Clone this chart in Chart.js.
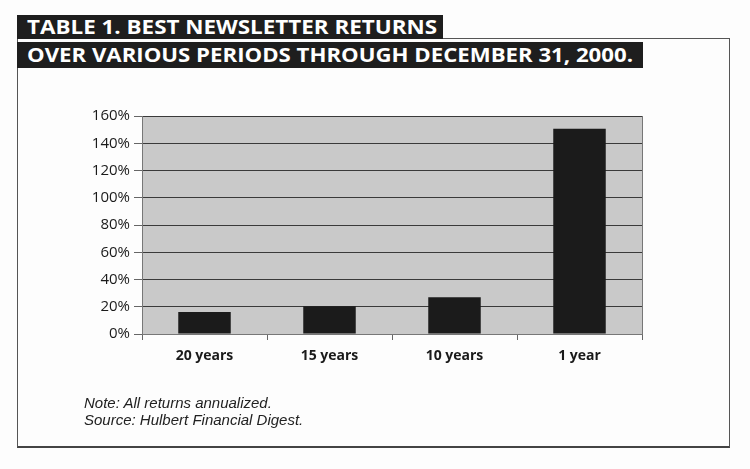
<!DOCTYPE html>
<html>
<head>
<meta charset="utf-8">
<script src="https://cdn.jsdelivr.net/npm/chart.js@4.4.1/dist/chart.umd.min.js"></script>
<style>
  html, body { margin: 0; padding: 0; background: #fff; }
  #wrap { position: relative; width: 750px; height: 469px; overflow: hidden; background: #fdfdfd; }
  #frame { position: absolute; left: 17px; top: 38px; width: 711px; height: 407px;
           border: 1px solid #555; border-bottom: 2px solid #444; }
  canvas { position: absolute; left: 0; top: 0; }
  .bar { position: absolute; background: #1e1e1e; color: #fff; font-family: "Open Sans", sans-serif;
         font-weight: 700; font-size: 19px; white-space: nowrap; overflow: hidden; }
  .bar span { position: absolute; left: 10px; top: 50%; transform-origin: 0 50%; line-height: 1; }
  #t1 { left: 17px; top: 15px; width: 426px; height: 24px; }
  #t2 { left: 17px; top: 42px; width: 626px; height: 26px; }
  .note { position: absolute; left: 84px; font-family: "Liberation Sans", Arial, sans-serif;
          font-style: italic; font-size: 15px; color: #222; white-space: nowrap; }
</style>
</head>
<body>
<div id="wrap">
  <div id="frame"></div>
  <canvas id="c" width="750" height="469"></canvas>
  <div class="bar" id="t1"><span data-w="410">TABLE 1. BEST NEWSLETTER RETURNS</span></div>
  <div class="bar" id="t2"><span data-w="606">OVER VARIOUS PERIODS THROUGH DECEMBER 31, 2000.</span></div>
  <div class="note" style="top:394px">Note: All returns annualized.</div>
  <div class="note" style="top:411px">Source: Hulbert Financial Digest.</div>
</div>
<script>
const categories = ["20 years", "15 years", "10 years", "1 year"];
const returnsPct = [16.2, 20.3, 26.9, 150.7];
const yTickValues = [0, 20, 40, 60, 80, 100, 120, 140, 160];
const yTickLabels = ["0%", "20%", "40%", "60%", "80%", "100%", "120%", "140%", "160%"];

document.querySelectorAll('.bar span').forEach(s => {
  const target = +s.dataset.w;
  const w = s.getBoundingClientRect().width;
  s.style.transform = 'translateY(-50%) scaleX(' + (target / w) + ')';
});

const plotBg = {
  id: 'plotBg',
  beforeDraw(chart) {
    const a = chart.chartArea, ctx = chart.ctx;
    ctx.save();
    ctx.fillStyle = '#c9c9c9';
    ctx.fillRect(a.left, a.top, a.right - a.left, a.bottom - a.top);
    ctx.restore();
  },
  afterDraw(chart) {
    const a = chart.chartArea, ctx = chart.ctx;
    ctx.save();
    ctx.strokeStyle = '#777';
    ctx.lineWidth = 1;
    ctx.beginPath();
    ctx.moveTo(a.right + 0.5, a.top);
    ctx.lineTo(a.right + 0.5, a.bottom);
    ctx.stroke();
    ctx.restore();
  }
};

new Chart(document.getElementById('c'), {
  type: 'bar',
  data: {
    labels: categories,
    datasets: [{
      data: returnsPct,
      backgroundColor: '#1b1b1b',
      borderWidth: 0,
      categoryPercentage: 1.0,
      barPercentage: 0.42
    }]
  },
  options: {
    responsive: false,
    animation: false,
    layout: { padding: { top: 116, right: 108, left: 0, bottom: 0 } },
    plugins: { legend: { display: false }, tooltip: { enabled: false } },
    scales: {
      y: {
        min: 0, max: 160,
        afterBuildTicks(s) { s.ticks = yTickValues.map(v => ({ value: v })); },
        afterFit(s) { s.width = 142; },
        ticks: {
          callback: (v) => yTickLabels[yTickValues.indexOf(v)],
          font: { family: "Open Sans", size: 15, weight: 500 },
          color: '#1a1a1a',
          padding: 4
        },
        grid: { color: '#3a3a3a', lineWidth: 1, tickLength: 8, tickColor: '#666' },
        border: { color: '#777', width: 1 }
      },
      x: {
        afterFit(s) { s.height = 135; },
        ticks: {
          font: { family: "Open Sans", size: 14, weight: 'bold' },
          color: '#1a1a1a',
          padding: 8
        },
        grid: { offset: true, drawOnChartArea: false, tickLength: 6, tickColor: '#666' },
        border: { color: '#777', width: 1 }
      }
    }
  },
  plugins: [plotBg]
});
</script>
</body>
</html>
